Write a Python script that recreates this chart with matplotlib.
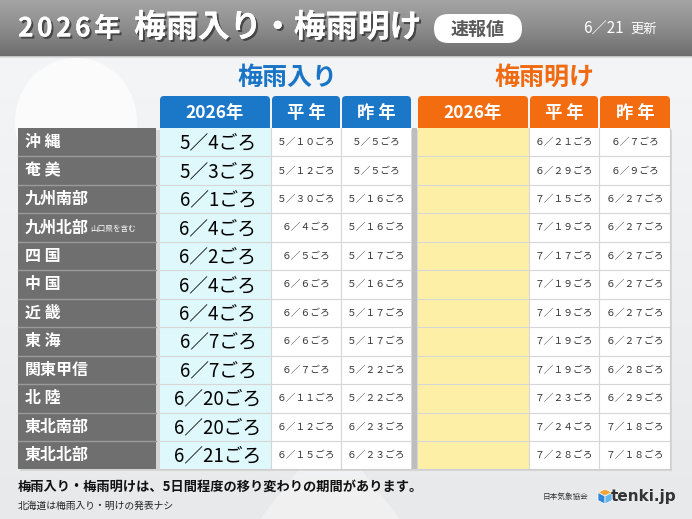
import numpy as np
import matplotlib.pyplot as plt
from matplotlib.colors import LinearSegmentedColormap
from matplotlib.patches import Rectangle, FancyBboxPatch, Ellipse, Polygon
import matplotlib.patheffects as pe

plt.rcParams['font.family'] = ['Noto Sans CJK JP', 'DejaVu Sans']

# ---------------- data ----------------
regions = ['沖 縄', '奄 美', '九州南部', '九州北部', '四 国', '中 国',
           '近 畿', '東 海', '関東甲信', '北 陸', '東北南部', '東北北部']
region_notes = {'九州北部': '山口県を含む'}

iri_2026   = ['5/4', '5/3', '6/1', '6/4', '6/2', '6/4', '6/4', '6/7', '6/7', '6/20', '6/20', '6/21']
iri_normal = ['5/10', '5/12', '5/30', '6/4', '6/5', '6/6', '6/6', '6/6', '6/7', '6/11', '6/12', '6/15']
iri_last   = ['5/5', '5/5', '5/16', '5/16', '5/17', '5/16', '5/17', '5/17', '5/22', '5/22', '6/23', '6/23']
ake_2026   = [''] * 12
ake_normal = ['6/21', '6/29', '7/15', '7/19', '7/17', '7/19', '7/19', '7/19', '7/19', '7/23', '7/24', '7/28']
ake_last   = ['6/7', '6/9', '6/27', '6/27', '6/27', '6/27', '6/27', '6/27', '6/28', '6/29', '7/18', '7/18']

col_heads = ['2026年', '平 年', '昨 年']
update_date = '6/21'


def fw(s):
    # half-width -> full-width digits and slash
    return s.translate(str.maketrans('0123456789/', '０１２３４５６７８９／'))


def big(s):
    return s.replace('/', '／')


# ---------------- canvas ----------------
W, H = 692, 519
fig = plt.figure(figsize=(W / 100, H / 100), dpi=100)
ax = fig.add_axes([0, 0, 1, 1])
ax.set_xlim(0, W)
ax.set_ylim(H, 0)
ax.axis('off')

# background
bg = np.linspace(0, 1, 200).reshape(-1, 1)
ax.imshow(bg, extent=[0, W, H, 57], cmap=LinearSegmentedColormap.from_list(
    'bg', ['#f4f5f6', '#e8e9eb']), aspect='auto', zorder=0)
ax.add_patch(Ellipse((76, 122), 122, 128, color='white', alpha=0.7, lw=0, zorder=0.5))
ax.add_patch(Polygon([[260, 519], [330, 430], [400, 519]], closed=True, color='white', alpha=0.35, lw=0, zorder=0.5))

# header band
hg = np.linspace(0, 1, 100).reshape(-1, 1)
ax.imshow(hg, extent=[0, W, 57, 0], cmap=LinearSegmentedColormap.from_list(
    'hd', ['#a4a4a4', '#8c8c8c', '#6c6c6c']), aspect='auto', zorder=1)
ax.plot([0, W], [57, 57], color='#d8d8d8', lw=1.2, zorder=1.2)

shadow = [pe.withSimplePatchShadow(offset=(1.5, -1.5), shadow_rgbFace='#2a2a2a', alpha=0.7), pe.Normal()]
for k, ch in enumerate('2026年'):
    ax.text(18 + k * 19, 29, ch, color='white', fontsize=19, fontweight='bold', va='center', ha='left',
            zorder=3, path_effects=shadow)
ax.text(134, 28, '梅雨入り・梅雨明け', color='white', fontsize=23, fontweight='bold', va='center',
        ha='left', zorder=3, path_effects=shadow)
ax.add_patch(FancyBboxPatch((434, 14), 88, 29, boxstyle='round,pad=0,rounding_size=14.5',
                            fc='white', ec='none', zorder=2))
ax.text(478, 29, '速報値', color='#5a5a5a', fontsize=13, fontweight='bold', va='center', ha='center', zorder=3)
ax.text(583, 29, big(update_date), color='white', fontsize=11, va='center', ha='left', zorder=3)
ax.text(644, 29.5, '更新', color='white', fontsize=9.5, va='center', ha='center', zorder=3)

# section titles
ax.text(287, 78, '梅雨入り', color='#1a75c6', fontsize=18, fontweight='bold', va='center', ha='center', zorder=3)
ax.text(544, 78, '梅雨明け', color='#f06a12', fontsize=18, fontweight='bold', va='center', ha='center', zorder=3)

# column layout
blue_cols = [(160, 270), (272, 340), (342, 411)]
orange_cols = [(418, 528), (530, 598), (600, 670)]
head_top, head_bot = 96, 127
row_top, row_h = 128, 28.45
n = len(regions)
table_bot = row_top + n * row_h

# table shadow
ax.add_patch(Rectangle((20, row_top + 2), 652, n * row_h, fc='#c8c8c8', ec='none', alpha=0.6, zorder=1.5))

for cols, color in [(blue_cols, '#1b77c8'), (orange_cols, '#f36c10')]:
    for (x0, x1), lab in zip(cols, col_heads):
        ax.add_patch(FancyBboxPatch((x0, head_top), x1 - x0, head_bot - head_top + 4,
                                    boxstyle='round,pad=0,rounding_size=4', fc=color, ec='none', zorder=2))
        ax.text((x0 + x1) / 2, (head_top + head_bot) / 2 + 1, lab, color='white', fontsize=12.5,
                fontweight='bold', va='center', ha='center', zorder=3)

# left label column
ax.add_patch(Rectangle((18, row_top), 138, n * row_h, fc='#6f6f6f', ec='none', zorder=2))
# table body backgrounds
ax.add_patch(Rectangle((160, row_top), 411 - 160, n * row_h, fc='white', ec='none', zorder=2))
ax.add_patch(Rectangle((418, row_top), 670 - 418, n * row_h, fc='white', ec='none', zorder=2))
ax.add_patch(Rectangle((160, row_top), 111, n * row_h, fc='#dff8fc', ec='none', zorder=2.1))
ax.add_patch(Rectangle((418, row_top), 111, n * row_h, fc='#fdf0a6', ec='none', zorder=2.1))
# divider between sections
ax.add_patch(Rectangle((412, row_top), 5, n * row_h, fc='#bdbdbd', ec='none', zorder=2))

# grid lines
for i in range(1, n):
    y = row_top + i * row_h
    ax.plot([18, 156], [y, y], color='#9a9a9a', lw=1, zorder=2.5)
    ax.plot([160, 411], [y, y], color='#d6d6d6', lw=0.8, zorder=2.5)
    ax.plot([418, 670], [y, y], color='#d6d6d6', lw=0.8, zorder=2.5)
for x in [271, 341, 529, 599]:
    ax.plot([x, x], [row_top, table_bot], color='#d6d6d6', lw=0.8, zorder=2.5)
ax.plot([670, 670], [row_top, table_bot], color='#d0d0d0', lw=0.8, zorder=2.5)
ax.plot([160, 411], [table_bot, table_bot], color='#d0d0d0', lw=0.8, zorder=2.5)
ax.plot([418, 670], [table_bot, table_bot], color='#d0d0d0', lw=0.8, zorder=2.5)

# cell texts
for i, reg in enumerate(regions):
    yc = row_top + (i + 0.5) * row_h
    ax.text(25, yc, reg, color='white', fontsize=11.5, fontweight='bold', va='center', ha='left', zorder=3)
    if reg in region_notes:
        ax.text(90, yc + 1, region_notes[reg], color='white', fontsize=5.5, va='center', ha='left', zorder=3)
    ax.text(218, yc + 1, big(iri_2026[i]) + 'ごろ', color='black', fontsize=13.5,
            va='center', ha='center', zorder=3)
    ax.text(306, yc, fw(iri_normal[i]) + 'ごろ', color='#333333', fontsize=7,
            va='center', ha='center', zorder=3)
    ax.text(376, yc, fw(iri_last[i]) + 'ごろ', color='#333333', fontsize=7,
            va='center', ha='center', zorder=3)
    if ake_2026[i]:
        ax.text(473, yc + 1, big(ake_2026[i]) + 'ごろ', color='black', fontsize=13.5,
                va='center', ha='center', zorder=3)
    ax.text(564, yc, fw(ake_normal[i]) + 'ごろ', color='#333333', fontsize=7,
            va='center', ha='center', zorder=3)
    ax.text(635, yc, fw(ake_last[i]) + 'ごろ', color='#333333', fontsize=7,
            va='center', ha='center', zorder=3)

# footer
ax.text(18, 487, '梅雨入り・梅雨明けは、5日間程度の移り変わりの期間があります。', color='#111111',
        fontsize=9.5, fontweight='bold', va='center', ha='left', zorder=3)
ax.text(18, 506, '北海道は梅雨入り・明けの発表ナシ', color='#222222', fontsize=7,
        va='center', ha='left', zorder=3)
ax.text(565, 497, '日本気象協会', color='#333333', fontsize=5.5, va='center', ha='center', zorder=3)
# small cube-like logo
ax.add_patch(Polygon([[605, 489], [612, 492.5], [605, 496], [598, 492.5]], closed=True,
                     fc='#f2a33a', ec='white', lw=0.5, zorder=3))
ax.add_patch(Polygon([[598, 492.5], [605, 496], [605, 504], [598, 500.5]], closed=True,
                     fc='#2f86d6', ec='white', lw=0.5, zorder=3))
ax.add_patch(Polygon([[612, 492.5], [605, 496], [605, 504], [612, 500.5]], closed=True,
                     fc='#65b4ec', ec='white', lw=0.5, zorder=3))
ax.text(644, 496, 'tenki.jp', color='#333333', fontsize=11, fontweight='bold', va='center',
        ha='center', family='DejaVu Sans', zorder=3)

fig.savefig('out.png', dpi=100)
